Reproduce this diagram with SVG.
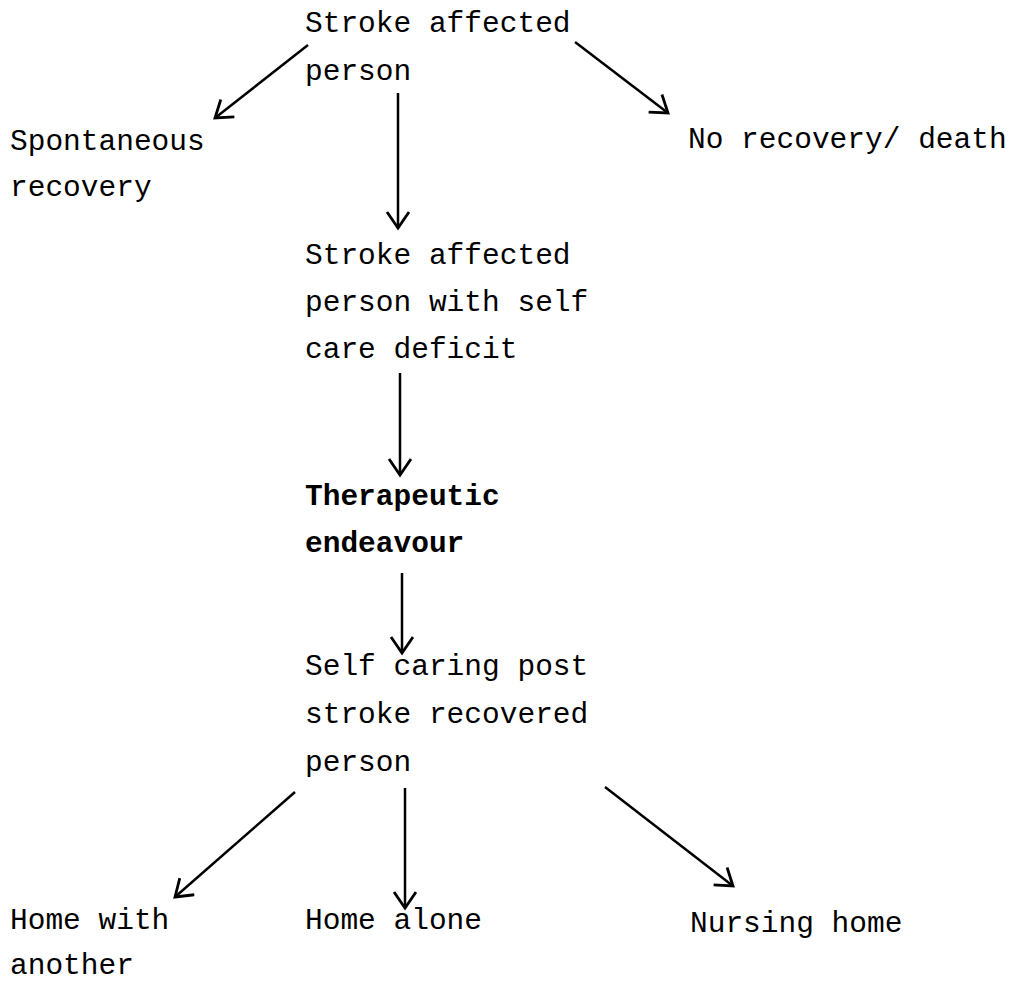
<svg xmlns="http://www.w3.org/2000/svg" width="1014" height="982" viewBox="0 0 1014 982">
<style>
text{font-family:"Liberation Mono","Courier New",monospace;font-size:29.5px;fill:#000}
.b{font-weight:bold}
.c line{stroke:#000;stroke-width:2.5;marker-end:url(#ah)}
</style>
<defs>
<marker id="ah" markerUnits="userSpaceOnUse" markerWidth="30" markerHeight="30" refX="17" refY="12" orient="auto">
<path d="M1,1 L17,12 L1,23" fill="none" stroke="#000" stroke-width="2.8" stroke-linejoin="miter"/>
</marker>
</defs>
<rect width="1014" height="982" fill="#fff"/>
<g id="n1"><text x="305" y="32">Stroke affected</text><text x="305" y="80">person</text></g>
<g id="n2"><text x="10" y="150">Spontaneous</text><text x="10" y="196">recovery</text></g>
<g id="n3"><text x="688" y="148">No recovery/ death</text></g>
<g id="n4"><text x="305" y="264">Stroke affected</text><text x="305" y="311">person with self</text><text x="305" y="358">care deficit</text></g>
<g id="n5"><text class="b" x="305" y="505">Therapeutic</text><text class="b" x="305" y="552">endeavour</text></g>
<g id="n6"><text x="305" y="675">Self caring post</text><text x="305" y="723">stroke recovered</text><text x="305" y="771">person</text></g>
<g id="n7"><text x="10" y="929">Home with</text><text x="10" y="974">another</text></g>
<g id="n8"><text x="305" y="929">Home alone</text></g>
<g id="n9"><text x="690" y="932">Nursing home</text></g>
<g id="connectors" class="c">
<line x1="308" y1="45" x2="215" y2="118"/>
<line x1="575" y1="42" x2="668" y2="113"/>
<line x1="398" y1="93" x2="398" y2="228"/>
<line x1="400" y1="373" x2="400" y2="475"/>
<line x1="402" y1="573" x2="402" y2="653"/>
<line x1="295" y1="792" x2="175" y2="897"/>
<line x1="405" y1="788" x2="405" y2="908"/>
<line x1="605" y1="787" x2="733" y2="886"/>
</g>
</svg>
